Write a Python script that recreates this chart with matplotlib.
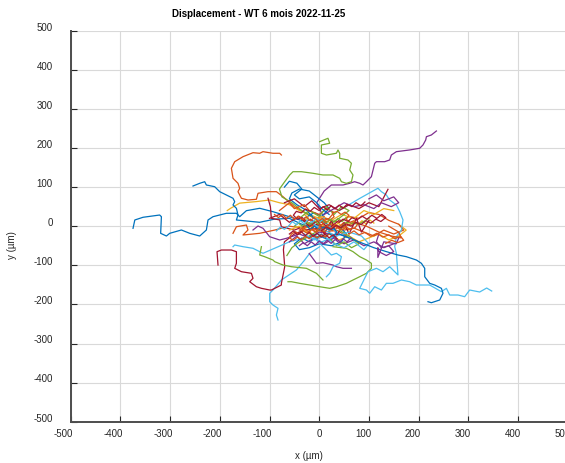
import matplotlib
matplotlib.use("Agg")
import matplotlib.pyplot as plt
from matplotlib.transforms import ScaledTranslation

plt.rcParams['font.family'] = ['Liberation Sans', 'DejaVu Sans']
plt.rcParams['axes.unicode_minus'] = False

# trajectories in µm, one (x, y) pair of lists per cell, grouped by line colour
blue_tracks = [
    ([-374.6, -371, -354.5, -321, -317.5, -319, -307.4, -300.8, -277.3, -260.5, -240.4, -227, -223.7, -213.7,
      -186.7, -166.6, -160, -146.5, -119.7, -93, -39, -10, 15],
     [-5.4, 15.9, 22.8, 28.6, 24.3, -18.2, -25.1, -18.2, -9.7, -18.2, -25.1, -9.7, 15.9, 24.3,
      33, 33, 24.3, 39.7, 45.8, 37.1, 16, 5, -5]),
    ([-253.9, -240.4, -230.4, -227, -210.3, -200.2, -186.7, -173.4, -170, -173.4, -166.6, -163.4, -166.6,
      -120, -90, -60, -35, -20],
     [102.8, 109.7, 113.8, 105.4, 101, 88.3, 79.8, 71.4, 62.7, 54.3, 45.8, 28.7, 15.9,
      10, 18, 20, 5, 0]),
    ([-30, -10, 5, 20, 10, -5, -20, -40, -55, -60, -45, -25, -10, 10, 30],
     [20, 35, 25, 45, 60, 75, 90, 95, 85, 70, 55, 40, 20, 10, -5]),
    ([60, 40, 20, 0, -20, -35, -50, -40, -20, 0, 25, 45, 55, 40],
     [-30, -20, -35, -25, -40, -30, -45, -60, -55, -45, -50, -40, -20, 0]),
    ([-70, -60, -45, -35, -50, -40, -20, -5, 5, 20],
     [100, 115, 110, 95, 80, 70, 75, 60, 45, 30]),
    ([40, 80, 110, 135, 158.5, 175.4, 195.6, 205.6, 212.3, 212.3, 222.3, 232.4, 245.9, 249.1, 242.5, 225.7, 218.9],
     [-20, -40, -55, -65, -73.7, -78, -86.5, -94.9, -107.7, -129.2, -146.1, -150.4, -158.9, -171.6, -188.7,
      -195.7, -193.1]),
    ([-20, -12, -4, 4, 12, 20, 28, 36, 30, 20, 10, 0, -10, -18, -26],
     [-30, -22, -30, -20, -28, -18, -26, -16, -6, -10, -2, -8, 0, -8, 2]),
]

orange_tracks = [
    ([-76.1, -79.5, -93, -113.1, -119.7, -133.2, -153.3, -170, -176.7, -173.4, -163.4, -160, -163.4, -156.5,
      -143.3, -126.4, -123.1, -103, -86.1, -72.8, -50, -30, -10, 10],
     [182.1, 186.5, 186.5, 190.6, 186.5, 188, 177.8, 165, 148.1, 122.5, 109.7, 96.9, 88.3, 71.4,
      67, 68.8, 84.2, 88.3, 88.3, 75.5, 50, 35, 20, 25]),
    ([-173.4, -166.6, -146.5, -143.3, -153.3, -119.7, -90, -60, -30, 0],
     [-18.2, -1.3, 3, -9.7, -22.5, -18.2, -10, 0, -5, 5]),
    ([0, 20, 40, 60, 80, 100, 120, 140, 160, 170, 150, 130, 110, 90, 70, 50, 30],
     [0, 15, 10, 25, 20, 35, 30, 15, 5, -10, -20, -10, -25, -15, -5, -10, 0]),
    ([-80, -60, -50, -30, -20, 0, 15, 30, 20, 0, -15, 10, 35, 55],
     [40, 60, 45, 55, 40, 30, 45, 35, 20, 10, -5, -15, -10, -25]),
    ([-40, -20, 0, 20, 45, 70, 95, 120, 145, 165, 160, 140],
     [-10, 5, -5, 5, -5, 10, 0, -15, -25, -30, -15, 0]),
    ([0, 8, 4, 12, 22, 30, 26, 36, 44, 52, 60, 54, 62, 70, 78, 72, 62, 54, 46, 36, 28, 18, 10, 2, -6, -14,
      -22, -30, -38],
     [0, 6, 14, 20, 16, 24, 34, 38, 30, 36, 28, 18, 10, 14, 6, -4, -8, -2, -10, -4, -12, -6, -14, -8, -16, -8,
      -14, -6, -12]),
    ([20, 12, 4, -4, -12, -20, -28, -36, -44, -52, -60, -56, -48, -40, -32, -24, -16, -8, 0, 8, 16, 24, 32,
      40, 48],
     [-20, -28, -22, -30, -24, -32, -26, -34, -28, -36, -30, -20, -14, -20, -12, -18, -8, -14, -4, -10, 0, -6,
      4, -2, 8]),
    ([-90, -82, -74, -66, -58, -50, -42, -34, -26, -18, -10, -2, 6, 14],
     [30, 22, 30, 20, 28, 18, 26, 16, 24, 14, 22, 12, 20, 10]),
    ([60, 70, 80, 92, 104, 116, 128, 140, 152, 164, 170, 158, 146, 134],
     [-20, -12, -22, -16, -26, -18, -28, -22, -32, -26, -36, -42, -36, -44]),
]

yellow_tracks = [
    ([-185, -178, -160, -126, -100, -80, -60, -40, -20, 0, 20, 40, 60],
     [40, 46, 59, 63, 67, 60, 55, 40, 30, 20, 10, 0, -10]),
    ([-20, 0, 20, 40, 60, 80, 100, 120, 140, 160, 175, 160],
     [-15, -30, -20, -35, -25, -40, -30, -20, -35, -25, -10, 5]),
    ([-60, -40, -20, -10, 5, 25, 45, 70, 90, 110, 130, 150],
     [-10, 0, -20, 10, 25, 15, 30, 20, 40, 30, 45, 40]),
    ([-30, -22, -30, -20, -28, -18, -10, -2, 6, 14, 22, 30, 38, 46, 54, 62, 70, 78, 86, 94, 102, 110],
     [30, 22, 14, 8, 0, -6, 2, -6, 4, -4, 6, -2, 8, 0, 10, 2, 12, 4, 14, 6, 16, 8]),
]

purple_tracks = [
    ([10, -5, 10, 24.5, 34.6, 47.9, 61.4, 71.4, 81.5, 88.1, 95, 105, 111.7, 115.1, 131.8, 141.8, 145.2, 155.3,
      182.1, 202.2, 208.8, 214.3, 215.7, 225.7, 235.8],
     [20, 60, 90, 105.4, 105.4, 105.4, 109.7, 113.8, 109.7, 105.4, 113.8, 126.6, 160.9, 165, 165, 169.4, 182.1,
      190.6, 195, 199.3, 207.7, 220.5, 228.9, 233.3, 243.5]),
    ([-20, -5.6, 7.6, 27.8, 34.6, 47.9, 64.8],
     [-70, -94.9, -93.4, -99.3, -103.6, -107.7, -107.7]),
    ([-133.2, -123.1, -113.1, -99.6, -79.5, -66, -40, -20, 0, 20],
     [-9.7, 0.5, -5.4, -26.9, -35.3, -31, -20, -30, -15, -20]),
    ([-60, -45, -30, -10, 10, 30, 50, 70, 90, 110, 130, 150],
     [-40, -25, -45, -30, -45, -30, -45, -35, -50, -40, -55, -45]),
    ([100, 115, 130, 150, 160, 145, 125, 110, 90, 70, 50, 30, 10],
     [70, 80, 65, 75, 60, 50, 60, 45, 55, 50, 60, 45, 30]),
    ([120, 115, 125, 140, 150, 135, 120, 118, 118, 130, 155, 160],
     [-20, -40, -55, -50, -65, -75, -65, -55, -80, -40, -45, -30]),
    ([-40, -32, -24, -16, -8, 0, 8, 16, 24, 32, 40, 48, 56, 64],
     [-50, -42, -50, -40, -48, -38, -46, -36, -44, -34, -42, -32, -40, -30]),
]

green_tracks = [
    ([1, 17.7, 21.1, 4.4, 4.4, 14.5, 34.6, 37.8, 41.2, 41.2, 57.9, 64.8, 61.4, 68, 64.8, 54.7, 44.7, 41.2,
      27.8, 7.6, -12.5, -35.8, -52.7, -59.4, -69.4, -80, -75, -55, -35, -15],
     [216.2, 224.9, 212.1, 207.7, 186.5, 182.1, 186.5, 195, 186.5, 173.7, 169.3, 160.9, 143.8, 131, 113.8,
      109.7, 113.8, 122.5, 131, 131, 135.3, 139.4, 139.4, 131, 113.8, 95, 75, 60, 40, 25]),
    ([-62.8, -55.9, -39.2, -19.1, 1, 21.1, 34.6, 54.7, 68, 81.5, 95, 105, 105, 95, 81.5, 68, 54.7, 27.8],
     [-142, -142, -146.1, -150.4, -154.8, -158.9, -154.8, -146.1, -137.6, -129.2, -120.5, -107.7, -94.9,
      -86.4, -77.9, -65.1, -56.5, -52.4]),
    ([-116.3, -119.7, -109.7, -93, -89.5, -72.8, -55.9, -25.8, -5.6, 7.6],
     [-52.4, -73.7, -78, -86.5, -90.8, -99.3, -103.6, -107.7, -120.5, -137.6]),
    ([-40, -20, 0, 15, 30, 45, 60, 40, 20, 0, -20, -40, -55, -65],
     [20, 40, 25, 50, 30, 50, 40, 20, 5, -10, -25, -40, -55, -75]),
    ([20, 35, 50, 65, 80, 60, 40, 55, 80, 100],
     [-30, -50, -40, -55, -45, -25, -10, 10, 5, 20]),
    ([-50, -42, -34, -26, -18, -10, -2, 6, 14, 22, 30, 38, 46, 54],
     [0, 8, 0, 10, 4, 14, 6, 16, 8, 18, 10, 20, 12, 22]),
]

cyan_tracks = [
    ([1, -19.1, -29.2, -45.9, -76.1, -93, -99.6, -99.6, -93, -82.9, -86.1, -82.9],
     [-52.4, -69.3, -86.4, -112, -137.6, -163.2, -171.6, -193.1, -201.6, -210, -227.2, -239.9]),
    ([-173.4, -170, -153.3, -133.2, -119.7, -113.1, -60, 0],
     [-52.4, -48.1, -52.4, -56.5, -65.2, -69.3, -40, -20]),
    ([40, 80, 111.7, 118.3, 125.1, 135.2, 141.8, 155.3, 162, 168.6, 165.4, 155.3, 151.9, 155.3, 158.5, 141.8,
      128.4, 115.1, 98.2, 91.5, 81.5, 95, 101.6, 111.7, 125.1, 135.2, 148.5, 165.4, 182.1, 195.6, 222.3,
      245.9, 255.9, 262.6, 279.3, 292.7, 302.8, 322.9, 337, 347.1],
     [40, 70, 92.6, 97, 88.3, 79.8, 67, 54.2, 37.1, 15.9, -9.7, -26.9, -52.4, -69.3, -124.6, -103.6,
      -116.4, -107.7, -116.4, -133.3, -158.9, -163.2, -171.6, -154.8, -163.2, -146.1, -146.1, -137.6, -142,
      -150.4, -150.4, -167.5, -158.9, -176, -176, -180.3, -163.2, -168.3, -158.1, -165.8]),
    ([-10, 14.5, 24.5, 34.6, 44.7, 41.2, 27.8, 21.1, 14.5],
     [-30, -60.9, -73.7, -69.3, -78, -94.9, -103.6, -120.5, -129.2]),
    ([-30, -10, 10, 30, 50, 70, 90, 100, 85, 60, 35, 10, -10],
     [-20, -35, -25, -45, -55, -40, -60, -45, -25, -15, -25, -10, 0]),
    ([-10, 5, 20, 35, 25, 5, -15],
     [5, -10, 0, -15, -30, -40, -30]),
    ([10, 2, -6, -14, -22, -30, -38, -46, -54, -62, -70, -78, -86],
     [20, 12, 20, 10, 18, 6, 14, 4, 12, 0, -8, -2, -12]),
]

red_tracks = [
    ([-203.6, -205.6, -196.8, -176.7, -166.6, -166.6, -170, -156.5, -136.4, -133.2, -139.8, -126.4, -116.3,
      -99.6, -96.2, -76.1, -76.1, -69.4, -72, -70, -50, -30, 0],
     [-99.3, -65.2, -60.9, -60.9, -65.2, -94.9, -107.7, -116.4, -120.5, -133.3, -142, -154.8, -158.9,
      -163.2, -163.2, -150.4, -146.1, -103.6, -60, -40, -20, -10, -5]),
    ([-103, -98.2, -96.2, -79.5, -76.1, -50, -20],
     [71.4, 49.9, 20.2, 15.9, -1.3, -10, 5]),
    ([-70, -50, -30, -15, 0, 20, 40, 60, 80, 100, 120, 138.4],
     [60, 70, 50, 65, 45, 55, 40, 55, 45, 60, 50, 94.4]),
    ([-20, 0, 10, 25, 35, 50, 60, 75, 85, 100],
     [-10, 10, -20, 15, -25, 10, -20, 20, -15, 15]),
    ([-100, -80, -60, -40, -20, 0, 20, 40],
     [20, 30, 10, 25, 0, 15, -5, 15]),
    ([-10, -18, -26, -34, -44, -52, -46, -36, -28, -18, -10, 0, 8, 16, 24, 32, 40, 48, 56, 66, 74, 84, 92],
     [10, 18, 12, 22, 18, 28, 38, 34, 44, 38, 48, 40, 50, 42, 52, 44, 54, 46, 56, 50, 60, 52, 62]),
    ([40, 48, 58, 66, 76, 86, 96, 106, 116, 126, 134, 124, 114, 104, 94, 84, 74, 64, 54, 44, 34, 24, 14, 4],
     [10, 18, 12, 22, 16, 26, 18, 28, 20, 30, 22, 12, 18, 8, 14, 4, 10, 0, 6, -4, 2, -8, -2, -12]),
    ([-60, -52, -44, -36, -28, -20, -12, -4, 4, 12, 20, 28, 36],
     [-20, -12, -22, -14, -24, -16, -26, -18, -28, -20, -30, -22, -32]),
]

track_groups = [
    (blue_tracks, '#0072BD'),
    (orange_tracks, '#D95319'),
    (yellow_tracks, '#EDB120'),
    (purple_tracks, '#7E2F8E'),
    (green_tracks, '#77AC30'),
    (cyan_tracks, '#4DBEEE'),
    (red_tracks, '#A2142F'),
]

fig = plt.figure(figsize=(5.65, 4.63), dpi=100)
ax = fig.add_axes([70.7 / 565, 41.3 / 463, 497 / 565, 391 / 463])

# interleave the colours so no single colour sits on top of everything
longest = max(len(g[0]) for g in track_groups)
for i in range(longest):
    for tracks, col in track_groups:
        if i < len(tracks):
            xs, ys = tracks[i]
            ax.plot(xs, ys, color=col, linewidth=0.9, solid_joinstyle='round')

ax.set_xlim(-500, 500)
ax.set_ylim(-500, 500)
ax.set_xticks(range(-500, 501, 100))
ax.set_yticks(range(-500, 501, 100))
ax.grid(True, color='#d9d9d9', linewidth=0.8)
ax.set_axisbelow(True)

for side in ['top', 'right']:
    ax.spines[side].set_visible(False)
for side in ['left', 'bottom']:
    ax.spines[side].set_color('#4d4d4d')
    ax.spines[side].set_linewidth(1.4)

ax.tick_params(direction='in', length=4, width=0.8, colors='#262626', labelsize=7,
               labelcolor='#262626')
ax.tick_params(axis='x', pad=5.5)
ax.tick_params(axis='y', pad=13)
# x labels end just right of their tick, y labels sit a little above theirs
for lab in ax.get_xticklabels():
    lab.set_horizontalalignment('right')
    lab.set_transform(lab.get_transform() + ScaledTranslation(0.025, 0, fig.dpi_scale_trans))
for lab in ax.get_yticklabels():
    lab.set_transform(lab.get_transform() + ScaledTranslation(0, 3 / 72, fig.dpi_scale_trans))

fig.text(309 / 565, 1 - 456 / 463, 'x (µm)', ha='center', va='center', fontsize=7, color='#262626')
fig.text(12 / 565, 1 - 245 / 463, 'y (µm)', ha='center', va='center', fontsize=7, rotation=90,
         color='#262626')
fig.text(259 / 565, 1 - 14 / 463, 'Displacement - WT 6 mois 2022-11-25', ha='center', va='center',
         fontsize=7, fontweight='bold', color='black')

fig.savefig('out.png', dpi=100)
